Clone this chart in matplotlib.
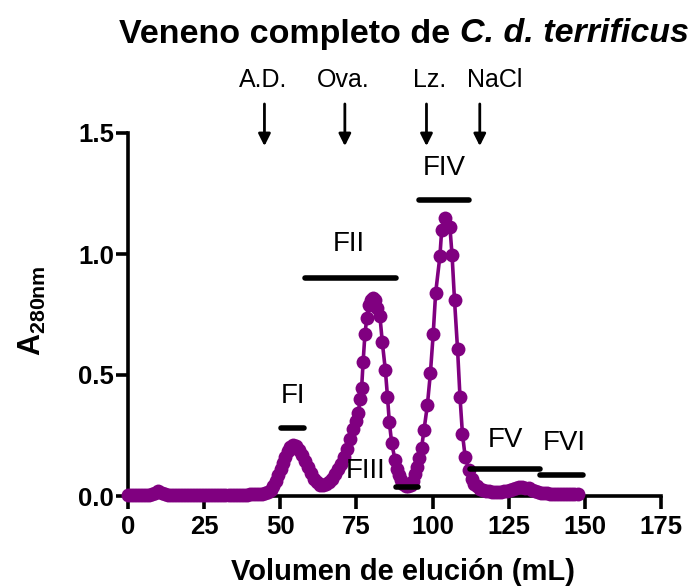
import matplotlib
matplotlib.use("Agg")
import matplotlib.pyplot as plt

plt.rcParams['font.family'] = ['Liberation Sans', 'DejaVu Sans']
plt.rcParams['mathtext.fontset'] = 'custom'
plt.rcParams['mathtext.rm'] = 'Liberation Sans'
plt.rcParams['mathtext.bf'] = 'Liberation Sans:bold'

# elution volume (mL) and absorbance, 10 per row
volume = [0, 1, 2, 3, 4, 5, 6, 7, 8, 9,
          10, 11, 12, 13, 14, 15, 16, 17, 18, 19,
          20, 21, 22, 23, 24, 25, 26, 27, 28, 29,
          30, 31, 32, 33, 34, 35, 36, 37, 38, 39,
          40, 41, 42, 43, 44, 45, 46, 47, 47.7, 48.5,
          49.3, 50.2, 51.0, 51.6, 52.4, 53.3, 54.2, 55.1, 56.0, 57.0,
          58, 59, 60, 61, 62, 63, 64, 65, 66, 67,
          68, 69, 70, 71, 72, 73, 73.8, 74.8, 75.6, 76.2,
          76.7, 77.2, 77.8, 78.4, 79.0, 79.7, 80.4, 81.1, 81.8, 82.7,
          83.5, 84.5, 85.2, 85.8, 86.6, 87.7, 88.3, 89.0, 89.7, 90.4,
          91.2, 92.0, 92.8, 93.5, 94.2, 94.9, 95.6, 96.4, 97.2, 98.3,
          99.3, 100.2, 101.0, 102.4, 103.0, 104.2, 105.7, 106.4, 107.2, 108.2,
          109.0, 109.8, 110.7, 111.9, 112.9, 113.7, 114.5, 115.5, 116.5, 117.5,
          118.5, 119.5, 120.5, 121.5, 122.5, 123.5, 124.5, 125.5, 126.5, 127.5,
          128.5, 129.5, 130.5, 131.5, 132.5, 133.5, 134.5, 135.5, 136.5, 137.5,
          138.5, 139.5, 140.5, 141.5, 142.5, 143.5, 144.5, 145.5, 146.5, 147.8]
absorbance = [.004, .004, .004, .004, .005, .005, .005, .006, .008, .014,
              .022, .012, .007, .006, .006, .005, .005, .005, .005, .005,
              .005, .005, .005, .005, .005, .005, .005, .005, .005, .005,
              .005, .005, .005, .005, .005, .006, .006, .006, .006, .006,
              .007, .007, .008, .009, .010, .012, .016, .025, .040, .062,
              .087, .112, .135, .160, .185, .203, .210, .205, .190, .170,
              .145, .118, .093, .072, .056, .046, .044, .048, .058, .072,
              .090, .110, .132, .160, .195, .235, .275, .310, .343, .400,
              .445, .555, .670, .735, .790, .810, .818, .810, .775, .745,
              .635, .520, .410, .305, .217, .148, .110, .085, .065, .050,
              .042, .040, .045, .060, .090, .120, .157, .200, .273, .376,
              .510, .668, .838, .990, 1.100, 1.150, 1.110, .995, .810, .607,
              .410, .258, .162, .107, .070, .050, .040, .030, .025, .022,
              .019, .017, .016, .016, .017, .019, .022, .026, .030, .034,
              .037, .037, .035, .031, .026, .021, .017, .014, .012, .011,
              .010, .009, .009, .008, .008, .008, .008, .007, .007, .007]

# pooled fractions: name, start, end, bar height, label position
fractions = ['FI', 'FII', 'FIII', 'FIV', 'FV', 'FVI']
frac_start = [50.3, 58.2, 88.0, 95.6, 112.4, 135.3]
frac_end = [57.8, 88.0, 95.2, 112.0, 135.3, 149.4]
frac_level = [0.281, 0.900, 0.037, 1.223, 0.110, 0.087]
label_x = [54.2, 72.5, 78.0, 103.8, 123.8, 143.2]
label_y = [0.415, 1.04, 0.105, 1.355, 0.23, 0.22]

# calibration standards (arrows) and where their names sit
standards = ['A.D.', 'Ova.', 'Lz.', 'NaCl']
standard_vol = [44.8, 71.2, 98.0, 115.5]
standard_label_x = [44.3, 70.6, 99.1, 120.5]

purple = '#800080'

fig = plt.figure(figsize=(6.99, 5.86), dpi=100)
ax = fig.add_axes([128 / 699, 1 - 496 / 586, 533 / 699, 363 / 586])

ax.plot(volume, absorbance, '-o', color=purple, lw=2.6, ms=10,
        markeredgewidth=0, clip_on=False, zorder=3)

for name, x0, x1, lev, tx, ty in zip(fractions, frac_start, frac_end, frac_level,
                                     label_x, label_y):
    ax.plot([x0, x1], [lev, lev], color='black', lw=4, solid_capstyle='round',
            clip_on=False, zorder=4)
    ax.text(tx, ty, name, fontsize=20, ha='center', va='center', zorder=5)

for name, v, lx in zip(standards, standard_vol, standard_label_x):
    ax.annotate('', xy=(v, 1.446), xytext=(v, 1.62),
                arrowprops=dict(arrowstyle='-|>', color='black', lw=2,
                                mutation_scale=18, shrinkA=0, shrinkB=0),
                annotation_clip=False)
    ax.text(lx, 1.72, name, fontsize=18, ha='center', va='center')

ax.set_xlim(0, 175)
ax.set_ylim(0, 1.5)
ax.set_xticks([0, 25, 50, 75, 100, 125, 150, 175])
ax.set_yticks([0.0, 0.5, 1.0, 1.5])
ax.set_yticklabels(['0.0', '0.5', '1.0', '1.5'])
for spine in ['top', 'right']:
    ax.spines[spine].set_visible(False)
for spine in ['left', 'bottom']:
    ax.spines[spine].set_linewidth(2.6)
ax.tick_params(axis='both', length=9, width=2.6, labelsize=18.5)
ax.tick_params(axis='x', pad=5)
ax.tick_params(axis='y', pad=1)
for lab in ax.get_xticklabels() + ax.get_yticklabels():
    lab.set_fontweight('bold')

ax.set_ylabel(r'A$_{\mathbf{280nm}}$', fontsize=22, fontweight='bold')
ax.yaxis.set_label_coords(-0.15, 0.51)

fig.text(403 / 699, 1 - 572 / 586, 'Volumen de elución (mL)', fontsize=21,
         fontweight='bold', ha='center', va='center')

# title: bold part + bold italic species name, centred together
renderer = fig.canvas.get_renderer()
ty = 1 - 34 / 586
t1 = fig.text(0, ty, 'Veneno completo de', fontsize=24.5, fontweight='bold',
              ha='left', va='center')
t2 = fig.text(0, ty, 'C. d. terrificus', fontsize=24.5, fontweight='bold',
              style='italic', ha='left', va='center')
w1 = t1.get_window_extent(renderer).width
w2 = t2.get_window_extent(renderer).width
gap = 0.28 * 24.5 * 100 / 72
x_start = 404 - (w1 + gap + w2) / 2
t1.set_x(x_start / 699)
t2.set_x((x_start + w1 + gap) / 699)

fig.savefig('out.png', dpi=100)
